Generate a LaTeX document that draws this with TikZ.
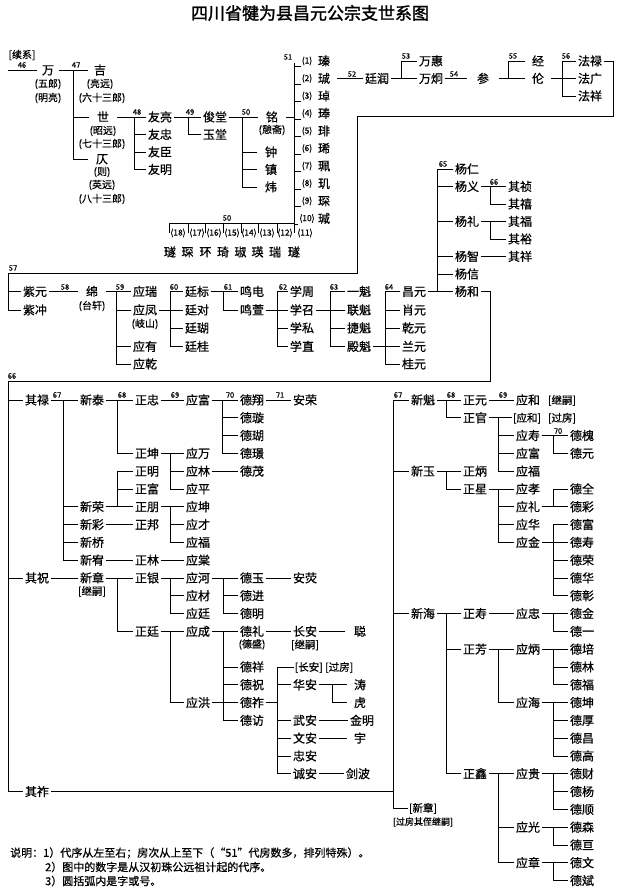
\documentclass[tikz,border=0pt]{standalone}
\usepackage{fontspec}
\setmainfont{Noto Sans CJK SC}[FakeBold=0.6]
\newfontfamily\titlefont{Noto Sans CJK SC}[FakeBold=1.6]
\newcommand{\fsz}[1]{\fontsize{#1}{#1}\selectfont}
\tikzset{
  x=1pt, y=-1pt,
  ln/.style={line width=1pt, black},
  nm/.style={inner sep=1.5pt, font=\fsz{12}, text height=10.2pt, text depth=1.2pt},
  sub/.style={inner sep=1pt, font=\fsz{10}},
  brk/.style={inner sep=1pt, font=\fsz{10.5}, text height=8.9pt, text depth=1pt},
  num/.style={inner sep=0.5pt, font=\fsz{7.5}},
  idx/.style={inner sep=1pt, font=\fsz{8.5}},
  note/.style={inner sep=0pt, anchor=west, font=\fsz{11}},
}
\newcommand{\tr}[3]{%
  \coordinate (J) at (#2,0);
  \draw[ln] (#1.east) -- (J |- #1);
  \foreach \ch in {#3}{\draw[ln] (J |- #1) -- (J |- \ch) -- (\ch.west);}
}
\begin{document}
\begin{tikzpicture}
\useasboundingbox (0,0) rectangle (620,889);
\fill[white] (0,0) rectangle (620,889);

% title
\node[inner sep=0pt, font=\fsz{17}\titlefont] (title) at (310,13) {四川省犍为县昌元公宗支世系图};

% ---- 46-50 ----
\node[sub] (xuxi) at (22,55) {[续系]};
\node[num] (n46) at (22,65) {46};
\coordinate (s46) at (8,70);
\node[nm, minimum width=22pt] (wan) at (48,70) {万};
\node[sub] (wanz1) at (48,84) {(五郎)};
\node[sub] (wanz2) at (48,98) {(明亮)};
\draw[ln] (s46) -- (wan.west);

\node[nm, minimum width=24pt] (ji) at (100,70) {吉};
\node[sub] (jiz1) at (100,84) {(亮远)};
\node[sub] (jiz2) at (102,98) {(六十三郎)};
\node[nm, minimum width=28pt] (shi) at (103,117) {世};
\node[sub] (shiz1) at (103,131) {(昭远)};
\node[sub] (shiz2) at (102,144) {(七十三郎)};
\node[nm, minimum width=28pt] (ze) at (102,159) {仄};
\node[sub] (zez1) at (102,172) {(则)};
\node[sub] (zez2) at (102,185) {(英远)};
\node[sub] (zez3) at (102,199) {(八十三郎)};
\node[num] (n47) at (76,65) {47};
\tr{wan}{73}{ji,shi,ze}

\node[nm] (you1) at (160,117) {友亮};
\node[nm] (you2) at (160,134.5) {友忠};
\node[nm] (you3) at (160,152) {友臣};
\node[nm] (you4) at (160,169.5) {友明};
\node[num] (n48) at (137,112) {48};
\tr{shi}{134}{you1,you2,you3,you4}

\node[nm] (jun1) at (215,117) {俊堂};
\node[nm] (jun2) at (215,134.5) {玉堂};
\node[num] (n49) at (190,112) {49};
\tr{you1}{188}{jun1,jun2}

\node[nm, minimum width=28pt] (ming) at (272,117) {铭};
\node[sub] (mingz) at (272,130) {(憩斋)};
\node[nm, minimum width=28pt] (zhong) at (271,152) {钟};
\node[nm, minimum width=28pt] (zhen) at (271,169.5) {镇};
\node[nm, minimum width=28pt] (wei) at (271,187) {炜};
\node[num] (n50) at (246,112) {50};
\tr{jun1}{242}{ming,zhong,zhen,wei}

% ---- 51 ----
\coordinate (t51) at (294,63);
\coordinate (b51) at (294,233);
\draw[ln] (ming.east) -- (t51 |- ming);
\draw[ln] (t51) -- (b51);
\node[num] (n51) at (288,57) {51};
\foreach \k/\yy in {1/61,2/78.5,3/96,4/113.5,5/131,6/148.5,7/166,8/183.5,9/201,10/218.5}{
  \node[idx] (p\k) at (307,\yy) {(\k)};
  \draw[ln] (t51 |- p\k.south west) -- (p\k.south west);
}
\node[nm] (c1) at (324,61) {瑧};
\node[nm, minimum width=26pt] (c2) at (324,78.5) {珹};
\node[nm] (c3) at (324,96) {琸};
\node[nm] (c4) at (324,113.5) {琫};
\node[nm] (c5) at (324,131) {琲};
\node[nm] (c6) at (324,148.5) {琋};
\node[nm] (c7) at (324,166) {珮};
\node[nm] (c8) at (324,183.5) {玑};
\node[nm] (c9) at (324,201) {琛};
\node[nm] (c10) at (324,218.5) {瑊};

\coordinate (h51) at (169,223);
\draw[ln] (h51) -- (t51 |- h51);
\foreach \xx in {169,188,205,223,241,258,277}{\draw[ln] (\xx,223) -- (\xx,233);}
\node[num] (n50b) at (227,218) {50};
\foreach \k/\xx in {18/178,17/197,16/214,15/232,14/249,13/267,12/285,11/305}{
  \node[idx] (q\k) at (\xx,233) {(\k)};
}
\foreach \k/\xx/\cc in {18/170/璲,17/187.5/琛,16/205.5/环,15/223/琦,14/240.5/琡,13/257.5/瑛,12/275/瑞,11/294/璲}{
  \node[nm] (d\k) at (\xx,252) {\cc};
}

% ---- 52-56 ----
\node[nm] (tingrun) at (377,78.5) {廷润};
\node[num] (n52) at (352,74) {52};
\draw[ln] (c2.east) -- (tingrun.west);
\node[nm] (wanhui) at (431,61) {万惠};
\node[nm] (wanjiong) at (431,78.5) {万炯};
\node[num] (n53) at (406,56) {53};
\tr{tingrun}{401}{wanhui,wanjiong}
\node[nm, minimum width=32pt] (can) at (483,78.5) {参};
\node[num] (n54) at (454,74) {54};
\draw[ln] (wanjiong.east) -- (can.west);
\node[nm, minimum width=26pt] (jing) at (538,61) {经};
\node[nm, minimum width=26pt] (lun) at (538,78.5) {伦};
\node[num] (n55) at (513,56) {55};
\tr{can}{508}{jing,lun}
\node[nm] (falu) at (590,61) {法禄};
\node[nm] (faguang) at (590,78.5) {法广};
\node[nm] (faxiang) at (590,96) {法祥};
\node[num] (n56) at (566,56) {56};
\tr{lun}{562}{falu,faguang,faxiang}

% frame to 57
\coordinate (j57) at (8,273);
\draw[ln] (falu.east) -| (613,116) -| (357,273) -| (8,310);
\node[num] (n57) at (13,268) {57};
\node[nm] (ziyuan) at (35,291.5) {紫元};
\node[nm] (zichong) at (35,310) {紫冲};
\draw[ln] (j57 |- ziyuan) -- (ziyuan.west);
\draw[ln] (j57 |- zichong) -- (zichong.west);

% ---- 58-65 ----
\node[nm, minimum width=28pt] (mian) at (92,291.5) {绵};
\node[sub] (mianz) at (92,306) {(台轩)};
\node[num] (n58) at (65,287) {58};
\draw[ln] (ziyuan.east) -- (mian.west);

\node[nm] (ying1) at (145,291.5) {应瑞};
\node[nm] (ying2) at (145,310) {应凤};
\node[sub] (yingz) at (145,324) {(岐山)};
\node[nm] (ying3) at (145,346.5) {应有};
\node[nm] (ying4) at (145,364) {应乾};
\node[num] (n59) at (120,287) {59};
\tr{mian}{116}{ying1,ying2,ying3,ying4}

\node[nm] (ting1) at (197,291.5) {廷标};
\node[nm] (ting2) at (197,310) {廷对};
\node[nm] (ting3) at (197,328) {廷瑚};
\node[nm] (ting4) at (197,346.5) {廷桂};
\node[num] (n60) at (174,287) {60};
\tr{ying2}{170}{ting1,ting2,ting3,ting4}

\node[nm] (ming1) at (252,291.5) {鸣电};
\node[nm] (ming2) at (252,310) {鸣萱};
\node[num] (n61) at (228,287) {61};
\tr{ting1}{223}{ming1,ming2}

\node[nm] (xue1) at (302,291.5) {学周};
\node[nm] (xue2) at (302,310) {学召};
\node[nm] (xue3) at (302,328) {学私};
\node[nm] (xue4) at (302,346.5) {学直};
\node[num] (n62) at (283,287) {62};
\tr{ming2}{277}{xue1,xue2,xue3,xue4}

\node[nm] (kui1) at (359,291.5) {一魁};
\node[nm] (kui2) at (359,310) {联魁};
\node[nm] (kui3) at (359,328) {捷魁};
\node[nm] (kui4) at (359,346.5) {殿魁};
\node[num] (n63) at (334,287) {63};
\tr{xue2}{330}{kui1,kui2,kui3,kui4}

\node[nm] (yuan1) at (414,291.5) {昌元};
\node[nm] (yuan2) at (414,310) {肖元};
\node[nm] (yuan3) at (414,328) {乾元};
\node[nm] (yuan4) at (414,346.5) {兰元};
\node[nm] (yuan5) at (414,364) {桂元};
\node[num] (n64) at (389,287) {64};
\tr{kui4}{385}{yuan1,yuan2,yuan3,yuan4,yuan5}

\node[nm] (yang1) at (467,169) {杨仁};
\node[nm] (yang2) at (467,186.5) {杨义};
\node[nm] (yang3) at (467,221.5) {杨礼};
\node[nm] (yang4) at (467,256.5) {杨智};
\node[nm] (yang5) at (467,274) {杨信};
\node[nm] (yang6) at (467,291.5) {杨和};
\node[num] (n65) at (443,164) {65};
\tr{yuan1}{437}{yang1,yang2,yang3,yang4,yang5,yang6}

\node[nm] (qi1) at (520,186.5) {其祯};
\node[nm] (qi2) at (520,204) {其禧};
\node[nm] (qi3) at (520,221.5) {其福};
\node[nm] (qi4) at (520,239) {其裕};
\node[nm] (qi5) at (520,256.5) {其祥};
\node[num] (n66) at (494,182) {66};
\tr{yang2}{490}{qi1,qi2}
\tr{yang3}{490}{qi3,qi4}
\draw[ln] (yang4.east) -- (qi5.west);

% ---- 66 frame ----
\node[nm] (qilu) at (37,400) {其禄};
\node[nm] (qizhu) at (37,578) {其祝};
\node[nm] (qizuo) at (37,791.6) {其祚};
\coordinate (j66) at (8,381);
\draw[ln] (yang6.east) -| (490,381) -| (8,791.6) -- (qizuo.west);
\draw[ln] (j66 |- qilu) -- (qilu.west);
\draw[ln] (j66 |- qizhu) -- (qizhu.west);
\node[num] (n66b) at (12,376) {66};

% ---- 其禄 ----
\node[nm] (xin1) at (92,400) {新泰};
\node[nm] (xin2) at (92,506.8) {新荣};
\node[nm] (xin3) at (92,524.6) {新彩};
\node[nm] (xin4) at (92,542.4) {新桥};
\node[nm] (xin5) at (92,560.2) {新宥};
\node[num] (n67) at (57,395) {67};
\tr{qilu}{63}{xin1,xin2,xin3,xin4,xin5}

\node[nm] (zz1) at (147,400) {正忠};
\node[nm] (zz2) at (147,453.4) {正坤};
\node[num] (n68) at (122,395) {68};
\tr{xin1}{117}{zz1,zz2}
\node[nm] (yf) at (198,400) {应富};
\node[num] (n69) at (175,395) {69};
\draw[ln] (zz1.east) -- (yf.west);
\node[nm] (da1) at (252,400) {德翔};
\node[nm] (da2) at (252,417.8) {德璇};
\node[nm] (da3) at (252,435.6) {德瑚};
\node[nm] (da4) at (252,453.4) {德璟};
\node[num] (n70) at (230,395) {70};
\tr{yf}{222}{da1,da2,da3,da4}
\node[nm] (an1) at (305,400) {安荣};
\node[num] (n71) at (280,395) {71};
\draw[ln] (da1.east) -- (an1.west);

\node[nm] (yw) at (198,453.4) {应万};
\node[nm] (yl) at (198,471.2) {应林};
\node[nm] (yp) at (198,489) {应平};
\tr{zz2}{170}{yw,yl,yp}
\node[nm] (dm) at (252,471.2) {德茂};
\draw[ln] (yl.east) -- (dm.west);

\node[nm] (zm) at (147,471.2) {正明};
\node[nm] (zf) at (147,489) {正富};
\node[nm] (zp) at (147,506.8) {正朋};
\tr{xin2}{117}{zm,zf,zp}
\node[nm] (yk) at (198,506.8) {应坤};
\node[nm] (yc) at (198,524.6) {应才};
\node[nm] (yfu) at (198,542.4) {应福};
\tr{zp}{170}{yk,yc,yfu}
\node[nm] (zb) at (147,524.6) {正邦};
\draw[ln] (xin3.east) -- (zb.west);
\node[nm] (zl) at (147,560.2) {正林};
\node[nm] (yt) at (198,560.2) {应棠};
\draw[ln] (xin5.east) -- (zl.west);
\draw[ln] (zl.east) -- (yt.west);

% ---- 其祝 ----
\node[nm] (xz) at (92,578) {新章};
\node[brk] (xzz) at (92,591) {[继嗣]};
\draw[ln] (qizhu.east) -- (xz.west);
\node[nm] (zy) at (147,578) {正银};
\node[nm] (zt) at (147,631.4) {正廷};
\tr{xz}{117}{zy,zt}
\node[nm] (yh) at (198,578) {应河};
\node[nm] (yc2) at (198,595.8) {应材};
\node[nm] (yt2) at (198,613.6) {应廷};
\tr{zy}{170}{yh,yc2,yt2}
\node[nm] (dy) at (252,578) {德玉};
\node[nm] (dj) at (252,595.8) {德进};
\node[nm] (dmi) at (252,613.6) {德明};
\tr{yh}{223}{dy,dj,dmi}
\node[nm] (ay) at (305,578) {安荧};
\draw[ln] (dy.east) -- (ay.west);

\node[nm] (ych) at (198,631.4) {应成};
\node[nm] (yhong) at (198,702.6) {应洪};
\tr{zt}{170}{ych,yhong}
\node[nm] (dl) at (252,631.4) {德礼};
\node[sub] (dlz) at (252,644.5) {(德盛)};
\node[nm] (dx) at (252,667) {德祥};
\node[nm] (dzh) at (252,684.8) {德祝};
\node[nm] (dzu) at (252,702.6) {德祚};
\node[nm] (dfa) at (252,720.4) {德访};
\tr{ych}{223}{dl,dx,dzh,dzu,dfa}
\draw[ln] (yhong.east) -- (J |- yhong);
\node[nm] (ca) at (305,631.4) {长安};
\node[brk] (caz) at (305,644.5) {[继嗣]};
\draw[ln] (dl.east) -- (ca.west);
\node[nm, minimum width=30pt] (cong) at (360,631.4) {聪};
\draw[ln] (ca.east) -- (cong.west);

\node[brk] (gf) at (324,667) {[长安] [过房]};
\node[nm] (ha) at (305,684.8) {华安};
\node[nm] (wa) at (305,720.4) {武安};
\node[nm] (wen) at (305,738.2) {文安};
\node[nm] (zan) at (305,756) {忠安};
\node[nm] (cha) at (305,773.8) {诚安};
\tr{dzu}{277}{gf,ha,wa,wen,zan,cha}
\node[nm, minimum width=26pt] (tao) at (360,684.8) {涛};
\node[nm, minimum width=26pt] (hu) at (360,702.6) {虎};
\tr{ha}{332}{tao,hu}
\node[nm] (jm) at (362,720.4) {金明};
\draw[ln] (wa.east) -- (jm.west);
\node[nm, minimum width=26pt] (yu) at (360,738.2) {宇};
\draw[ln] (wen.east) -- (yu.west);
\node[nm] (jb) at (358,773.8) {剑波};
\draw[ln] (cha.east) -- (jb.west);

% ---- 其祚 (right side) ----
\node[nm] (xk) at (423,400) {新魁};
\node[nm] (xyu) at (423,471.2) {新玉};
\node[nm] (xh) at (423,613.6) {新海};
\node[brk] (xzz2) at (423,808) {[新章]};
\node[inner sep=0.5pt, font=\fsz{9}] (xzz3) at (423,822) {[过房其侄继嗣]};
\node[num] (n67b) at (398,395) {67};
\tr{qizuo}{393}{xk,xyu,xh,xzz2}

\node[nm] (zyuan) at (475,400) {正元};
\node[nm] (zg) at (475,417.8) {正官};
\node[num] (n68b) at (451,395) {68};
\tr{xk}{446}{zyuan,zg}
\node[nm] (yhe) at (528,400) {应和};
\node[brk] (yhez) at (562,400) {[继嗣]};
\node[num] (n69b) at (503,395) {69};
\draw[ln] (zyuan.east) -- (yhe.west);
\node[brk] (yhe2) at (527,417.8) {[应和]};
\node[brk] (yhe2z) at (562,417.8) {[过房]};
\node[nm] (ys) at (528,435.6) {应寿};
\node[nm] (yfu2) at (528,453.4) {应富};
\node[nm] (yfu3) at (528,471.2) {应福};
\tr{zg}{498}{yhe2,ys,yfu2,yfu3}
\node[nm] (dh) at (582,435.6) {德槐};
\node[nm] (dyuan) at (582,453.4) {德元};
\node[num] (n70b) at (558,431) {70};
\tr{ys}{553}{dh,dyuan}

\node[nm] (zbing) at (475,471.2) {正炳};
\node[nm] (zx) at (475,489) {正星};
\tr{xyu}{446}{zbing,zx}
\node[nm] (yx) at (528,489) {应孝};
\node[nm] (yli) at (528,506.8) {应礼};
\node[nm] (yhua) at (528,524.6) {应华};
\node[nm] (yj) at (528,542.4) {应金};
\tr{zx}{498}{yx,yli,yhua,yj}
\node[nm] (dq) at (582,489) {德全};
\node[nm] (dc) at (582,506.8) {德彩};
\tr{yli}{553}{dq,dc}
\node[nm] (dfu) at (582,524.6) {德富};
\node[nm] (ds) at (582,542.4) {德寿};
\node[nm] (dr) at (582,560.2) {德荣};
\node[nm] (dhua) at (582,578) {德华};
\node[nm] (dz) at (582,595.8) {德彰};
\tr{yj}{553}{dfu,ds,dr,dhua,dz}

\node[nm] (zs) at (475,613.6) {正寿};
\node[nm] (zfang) at (475,649.2) {正芳};
\node[nm] (zxin) at (475,773.8) {正鑫};
\tr{xh}{446}{zs,zfang,zxin}
\node[nm] (yz) at (528,613.6) {应忠};
\draw[ln] (zs.east) -- (yz.west);
\node[nm] (djin) at (582,613.6) {德金};
\node[nm] (dyi) at (582,631.4) {德一};
\tr{yz}{553}{djin,dyi}
\node[nm] (yb) at (528,649.2) {应炳};
\node[nm] (yhai) at (528,702.6) {应海};
\tr{zfang}{498}{yb,yhai}
\node[nm] (dp) at (582,649.2) {德培};
\node[nm] (dlin) at (582,667) {德林};
\node[nm] (dfu2) at (582,684.8) {德福};
\tr{yb}{553}{dp,dlin,dfu2}
\node[nm] (dk) at (582,702.6) {德坤};
\node[nm] (dho) at (582,720.4) {德厚};
\node[nm] (dch) at (582,738.2) {德昌};
\node[nm] (dg) at (582,756) {德高};
\tr{yhai}{553}{dk,dho,dch,dg}
\node[nm] (yg) at (528,773.8) {应贵};
\node[nm] (ygu) at (528,827.2) {应光};
\node[nm] (yzh) at (528,862.8) {应章};
\tr{zxin}{498}{yg,ygu,yzh}
\node[nm] (dcai) at (582,773.8) {德财};
\node[nm] (dyang) at (582,791.6) {德杨};
\node[nm] (dshun) at (582,809.4) {德顺};
\tr{yg}{553}{dcai,dyang,dshun}
\node[nm] (dsen) at (582,827.2) {德森};
\node[nm] (dgen) at (582,845) {德亘};
\tr{ygu}{553}{dsen,dgen}
\node[nm] (dwen) at (582,862.8) {德文};
\node[nm] (dbin) at (582,880.6) {德斌};
\tr{yzh}{553}{dwen,dbin}

% notes
\node[note] (note1) at (10,853) {说明：1）代序从左至右；房次从上至下（“51”代房数多，排列特殊）。};
\node[note] (note2) at (45,867) {2）图中的数字是从汉初珠公远祖计起的代序。};
\node[note] (note3) at (45,881) {3）圆括弧内是字或号。};
\end{tikzpicture}
\end{document}
